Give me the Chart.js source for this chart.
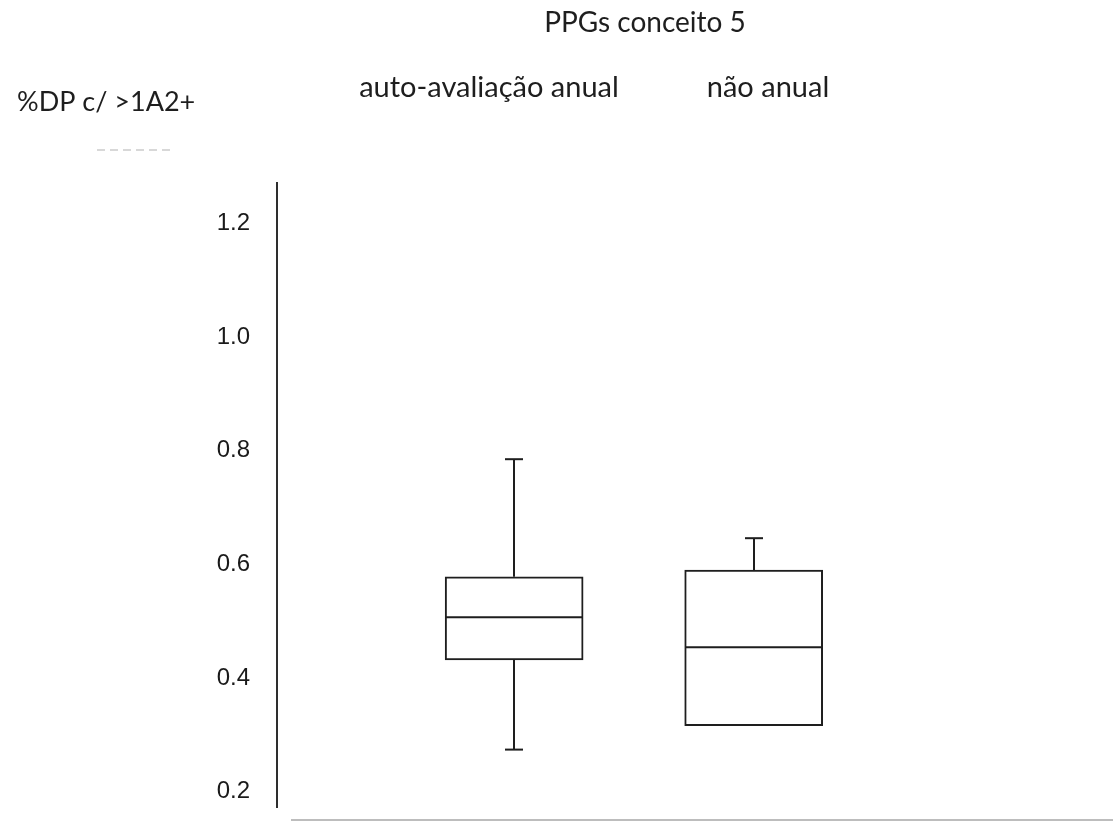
<!DOCTYPE html>
<html lang="pt">
<head>
<meta charset="utf-8">
<title>PPGs conceito 5</title>
<script src="https://cdn.jsdelivr.net/npm/chart.js@4.4.1/dist/chart.umd.min.js"></script>
<style>
  html, body { margin: 0; background: #fff; }
  #wrap { position: relative; width: 1113px; height: 821px; }
</style>
</head>
<body>
<div id="wrap"><canvas id="chart"></canvas></div>
<script>
// five-number summaries, one entry per group
const groups = ["auto-avaliação anual", "não anual"]
const positions = [1, 2]
const mins = [0.274, 0.316]
const q1s = [0.432, 0.316]
const medians = [0.507, 0.454]
const q3s = [0.578, 0.590]
const maxes = [0.785, 0.646]
const yTicks = [0.2, 0.4, 0.6, 0.8, 1.0, 1.2]

const title = "PPGs conceito 5"
const yTitle = "%DP c/ >1A2+"

const ink = "#1e1e1e"
const textFont = "Lato, 'Open Sans', sans-serif"

const line = (ctx, x1, y1, x2, y2) => {
  ctx.beginPath()
  ctx.moveTo(x1, y1)
  ctx.lineTo(x2, y2)
  ctx.stroke()
}

// whiskers, caps and median lines on top of the floating bars
const boxDecor = {
  id: "boxDecor",
  afterDatasetsDraw(chart) {
    const { ctx, scales: { x, y } } = chart
    const bars = chart.getDatasetMeta(0).data
    ctx.save()
    ctx.strokeStyle = ink
    ctx.lineWidth = 2
    positions.forEach((p, i) => {
      const cx = Math.round(x.getPixelForValue(p))
      const hw = bars[i].width / 2
      const cap = 9
      if (maxes[i] > q3s[i]) {
        const top = y.getPixelForValue(maxes[i])
        line(ctx, cx, y.getPixelForValue(q3s[i]), cx, top)
        line(ctx, cx - cap, top, cx + cap, top)
      }
      if (mins[i] < q1s[i]) {
        const bottom = y.getPixelForValue(mins[i])
        line(ctx, cx, y.getPixelForValue(q1s[i]), cx, bottom)
        line(ctx, cx - cap, bottom, cx + cap, bottom)
      }
      const my = y.getPixelForValue(medians[i])
      line(ctx, cx - hw + 1, my, cx + hw - 1, my)
    })
    ctx.restore()
  },
  afterDraw(chart) {
    const { ctx, chartArea } = chart
    ctx.save()
    ctx.fillStyle = ink
    ctx.textBaseline = "alphabetic"
    ctx.textAlign = "center"
    ctx.font = `28px ${textFont}`
    ctx.fillText(title, 645, 32)
    ctx.font = `29px ${textFont}`
    ctx.fillText(groups[0], 489, 97)
    ctx.fillText(groups[1], 768, 97)
    ctx.textAlign = "left"
    ctx.font = `27px ${textFont}`
    ctx.fillText(yTitle, 17, 111)

    // faint dashed rule under the axis title
    ctx.strokeStyle = "#d8d8d8"
    ctx.lineWidth = 2
    ctx.setLineDash([8, 5])
    line(ctx, 97, 150, 175, 150)
    ctx.setLineDash([])

    // light baseline below the plot
    ctx.strokeStyle = "#bdbdbd"
    line(ctx, chartArea.left + 14, chartArea.bottom + 13, chart.width, chartArea.bottom + 13)
    ctx.restore()
  }
}

new Chart(document.getElementById("chart"), {
  type: "bar",
  data: {
    datasets: [{
      data: positions.map((p, i) => ({ x: p, y: [q1s[i], q3s[i]] })),
      backgroundColor: "#ffffff",
      borderColor: ink,
      borderWidth: 2,
      borderSkipped: false,
      barThickness: 138,
    }],
  },
  options: {
    responsive: true,
    maintainAspectRatio: false,
    animation: false,
    layout: { padding: { top: 183, right: 0, bottom: 14, left: 0 } },
    scales: {
      x: { type: "linear", display: false, offset: false, min: 0.01, max: 3.5 },
      y: {
        min: 0.173,
        max: 1.271,
        afterBuildTicks: (s) => { s.ticks = yTicks.map((v) => ({ value: v })) },
        afterFit: (s) => {
          s.width = 277
          s.paddingTop = 0
          s.paddingBottom = 0
        },
        grid: { display: false, drawTicks: false },
        border: { display: true, color: "#2e2e2e", width: 2 },
        ticks: {
          padding: 27,
          color: "#1a1a1a",
          font: { family: "'Liberation Sans', Arial, sans-serif", size: 24 },
          callback: (v) => v.toFixed(1),
        },
      },
    },
    plugins: { legend: { display: false }, tooltip: { enabled: false } },
  },
  plugins: [boxDecor],
})
</script>
</body>
</html>
